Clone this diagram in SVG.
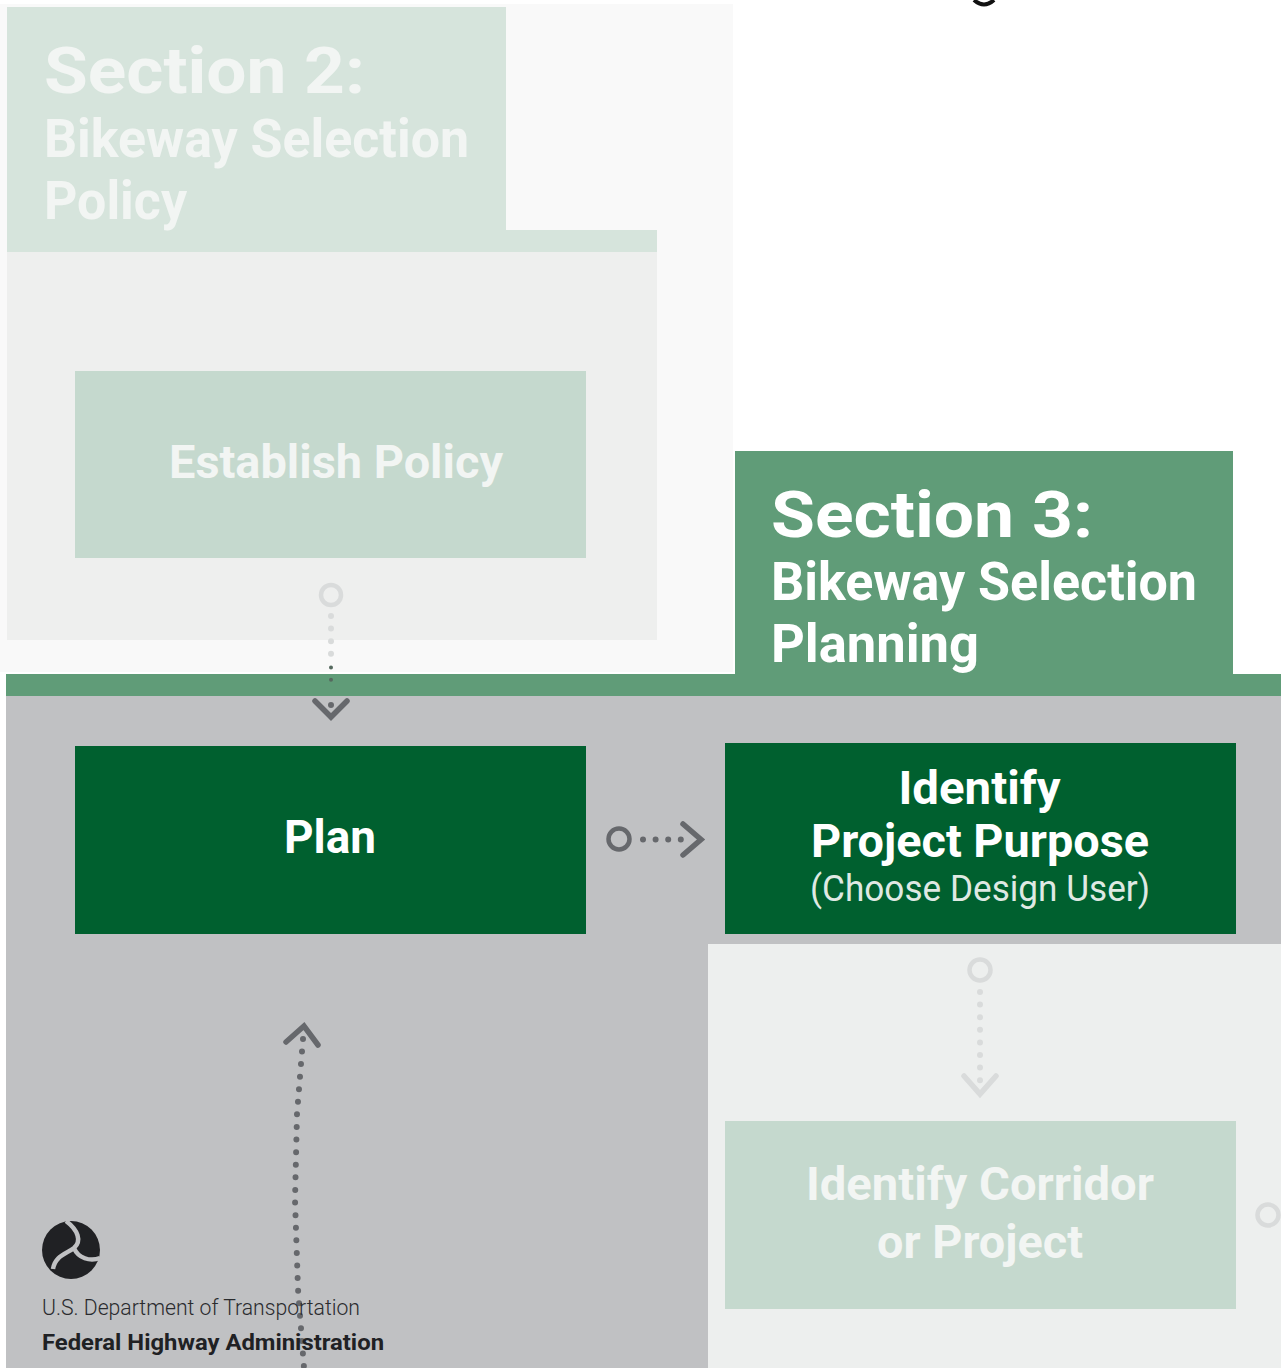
<svg xmlns="http://www.w3.org/2000/svg" width="1281" height="1368" viewBox="0 0 1281 1368">
<style>
text{font-family:Roboto,"Liberation Sans",sans-serif}
.h{font-weight:700;font-size:64px}
.s{font-weight:700;font-size:54px}
.n{font-weight:700;font-size:46px;text-anchor:middle}
.w{fill:#fff}
.f{fill:#f2f5f3}
.ring{fill:none;stroke-width:4.5}
.dot{fill:none;stroke-width:6;stroke-linecap:round;stroke-dasharray:0 12.6}
.head{fill:none;stroke-width:5.5;stroke-linecap:round;stroke-linejoin:miter}
.dark{stroke:#66686c}
.pale{stroke:#d9dbdb}
</style>
<rect width="1281" height="1368" fill="#fff"/>
<g id="backgrounds">
<rect x="0" y="4" width="733" height="668" fill="#f9f9f9"/>
<rect x="7" y="250" width="650" height="390" fill="#eeefee"/>
<rect x="6" y="696" width="1275" height="672" fill="#c0c1c3"/>
<rect x="6" y="674" width="1275" height="22" fill="#609c78"/>
<rect x="708" y="944" width="573" height="424" fill="#edefee"/>
</g>
<path d="M974 0Q984 9 994 0" fill="none" stroke="#111" stroke-width="4"/>
<g id="section-2">
<path d="M7 7H506V230H657V252H7Z" fill="#d6e4dc"/>
<text class="h f" x="44" y="93" textLength="321" lengthAdjust="spacingAndGlyphs">Section 2:</text>
<text class="s f" x="44" y="157" textLength="425" lengthAdjust="spacingAndGlyphs">Bikeway Selection</text>
<text class="s f" x="44" y="219" textLength="143" lengthAdjust="spacingAndGlyphs">Policy</text>
</g>
<g id="section-3">
<rect x="735" y="451" width="498" height="245" fill="#609c78"/>
<text class="h w" x="771" y="537" textLength="322" lengthAdjust="spacingAndGlyphs">Section 3:</text>
<text class="s w" x="771" y="600" textLength="426" lengthAdjust="spacingAndGlyphs">Bikeway Selection</text>
<text class="s w" x="771" y="662" textLength="208" lengthAdjust="spacingAndGlyphs">Planning</text>
</g>
<g id="establish-policy">
<rect x="75" y="371" width="511" height="187" fill="#c5d9ce"/>
<text class="n f" x="336" y="478" textLength="334" lengthAdjust="spacingAndGlyphs">Establish Policy</text>
</g>
<g id="plan">
<rect x="75" y="746" width="511" height="188" fill="#00602f"/>
<text class="n w" x="330" y="853" textLength="92" lengthAdjust="spacingAndGlyphs">Plan</text>
</g>
<g id="identify-purpose">
<rect x="725" y="743" width="511" height="191" fill="#00602f"/>
<text class="n w" x="979.500" y="804" textLength="162" lengthAdjust="spacingAndGlyphs">Identify</text>
<text class="n w" x="980" y="857" textLength="338" lengthAdjust="spacingAndGlyphs">Project Purpose</text>
<text x="980" y="901" text-anchor="middle" font-size="37" fill="#dfe9e3" textLength="340" lengthAdjust="spacingAndGlyphs">(Choose Design User)</text>
</g>
<g id="identify-corridor">
<rect x="725" y="1121" width="511" height="188" fill="#c5d9ce"/>
<text class="n f" x="980" y="1200" textLength="348" lengthAdjust="spacingAndGlyphs">Identify Corridor</text>
<text class="n f" x="980" y="1258" textLength="206" lengthAdjust="spacingAndGlyphs">or Project</text>
</g>
<g id="connectors">
<circle class="ring pale" cx="331" cy="595" r="10"/>
<path class="dot pale" d="M331 616V654"/>
<path d="M331 667.500V692" fill="none" stroke="#55695e" stroke-width="4" stroke-linecap="round" stroke-dasharray="0 12.300"/>
<path class="dot dark" d="M331 705V706"/>
<path class="head dark" d="M315 701L331 717L347 701"/>
<circle class="ring dark" cx="619" cy="839" r="10.500"/>
<path class="dot dark" d="M643 839.500H687"/>
<path class="head dark" d="M683 824L701 839.500L683 855"/>
<circle class="ring pale" cx="980" cy="970" r="10.500"/>
<path class="dot pale" d="M980 992V1081"/>
<path class="head pale" d="M964 1076L980 1094L996 1076"/>
<circle class="ring pale" cx="1268" cy="1215" r="10.500"/>
<path class="dot dark" d="M303 1039L297 1114L295 1200L298 1289L304 1368"/>
<path class="head dark" d="M286 1042L304 1026L318 1045"/>
</g>
<g id="fhwa-logo">
<circle cx="71" cy="1250" r="29" fill="#202124"/>
<path d="M66 1221C78 1230 82 1241 74 1248C66 1254 55 1256 53 1269M74 1248C78 1258 90 1262 100 1258" fill="none" stroke="#c0c1c3" stroke-width="4.500"/>
<text x="42" y="1315" font-size="22" font-weight="300" fill="#2a2b2e" textLength="318" lengthAdjust="spacingAndGlyphs">U.S. Department of Transportation</text>
<text x="42" y="1350" font-size="22" font-weight="700" fill="#202124" textLength="342" lengthAdjust="spacingAndGlyphs">Federal Highway Administration</text>
</g>
</svg>
